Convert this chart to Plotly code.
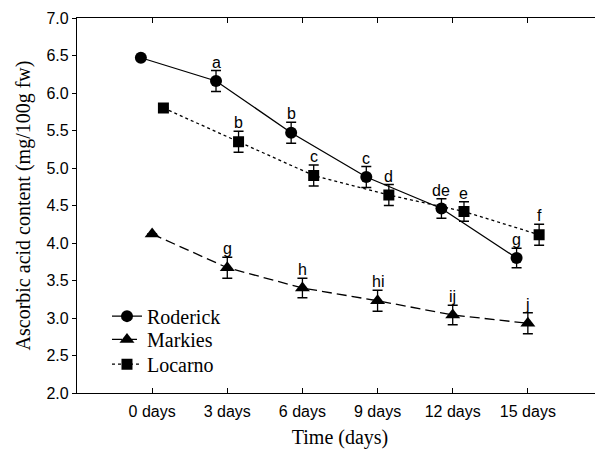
import plotly.graph_objects as go

days = ["0 days", "3 days", "6 days", "9 days", "12 days", "15 days"]
positions = [0, 1, 2, 3, 4, 5]

roderick = [6.47, 6.16, 5.47, 4.88, 4.46, 3.80]
roderick_err = [0.0, 0.14, 0.14, 0.14, 0.13, 0.13]
roderick_lbl = ["", "a", "b", "c", "de", "g"]

markies = [4.12, 3.67, 3.40, 3.23, 3.04, 2.93]
markies_err = [0.0, 0.14, 0.13, 0.14, 0.13, 0.14]
markies_lbl = ["", "g", "h", "hi", "ij", "j"]

locarno = [5.80, 5.35, 4.90, 4.64, 4.42, 4.11]
locarno_err = [0.0, 0.14, 0.14, 0.14, 0.13, 0.14]
locarno_lbl = ["", "b", "c", "d", "e", "f"]

series = [
    ("Roderick", roderick, roderick_err, roderick_lbl, -0.15, "circle", "solid", 12, "legend", 0.205),
    ("Markies", markies, markies_err, markies_lbl, 0.0, "triangle-up", "10px,5px", 13, "legend2", 0.143),
    ("Locarno", locarno, locarno_err, locarno_lbl, 0.15, "square", "dot", 11, "legend3", 0.077),
]

SERIF = "Liberation Serif, Times New Roman, serif"
SANS = "Liberation Sans, Arial, sans-serif"

fig = go.Figure()
annotations = []
legends = {}
for name, vals, errs, lbls, off, sym, dash, msize, leg, ly in series:
    xs = [p + off for p in positions]
    fig.add_trace(go.Scatter(
        x=xs, y=vals, name=name, mode="lines+markers", legend=leg,
        line=dict(color="black", width=1.3, dash=dash),
        marker=dict(symbol=sym, size=msize, color="black"),
        error_y=dict(type="data", array=errs, visible=True, color="black",
                     thickness=1.3, width=5),
    ))
    legends[leg] = dict(x=0.057, y=ly, xanchor="left", yanchor="middle",
                        bgcolor="rgba(0,0,0,0)",
                        font=dict(family=SERIF, size=20, color="black"))
    for x, v, e, t in zip(xs, vals, errs, lbls):
        if t:
            annotations.append(dict(
                x=x, y=v + e, text=t, showarrow=False, xref="x", yref="y",
                yanchor="bottom", yshift=-2,
                font=dict(family=SANS, size=16, color="black"),
            ))

# invisible trace for right-side inner ticks
fig.add_trace(go.Scatter(x=[0], y=[2], yaxis="y2", mode="markers",
                         marker=dict(opacity=0), showlegend=False, hoverinfo="skip"))

fig.update_layout(
    width=595, height=446,
    margin=dict(l=69, r=0, t=10, b=61),
    paper_bgcolor="white", plot_bgcolor="white",
    showlegend=True,
    annotations=annotations,
    xaxis=dict(
        range=[-1, 6], tickvals=positions, ticktext=days,
        showline=True, linecolor="black", linewidth=1.3, mirror="ticks",
        ticks="inside", ticklen=5, tickcolor="black", showgrid=False, zeroline=False,
        ticklabelstandoff=4,
        tickfont=dict(family=SANS, size=16, color="black"),
        title=dict(text="Time (days)", standoff=10,
                   font=dict(family=SERIF, size=20, color="black")),
    ),
    yaxis=dict(
        range=[2.0, 7.0], dtick=0.5, tickformat=".1f",
        showline=True, linecolor="black", linewidth=1.3, mirror=False,
        ticks="outside", ticklen=4, tickcolor="black", showgrid=False, zeroline=False,
        tickfont=dict(family=SANS, size=16, color="black"),
        title=dict(text="Ascorbic acid content (mg/100g fw)", standoff=10,
                   font=dict(family=SERIF, size=20, color="black")),
    ),
    yaxis2=dict(
        overlaying="y", side="right", range=[2.0, 7.0], dtick=0.5,
        showline=False, ticks="inside", ticklen=3, tickcolor="black",
        showticklabels=False, showgrid=False, zeroline=False,
    ),
    **legends,
)

fig.write_html("out.html")
